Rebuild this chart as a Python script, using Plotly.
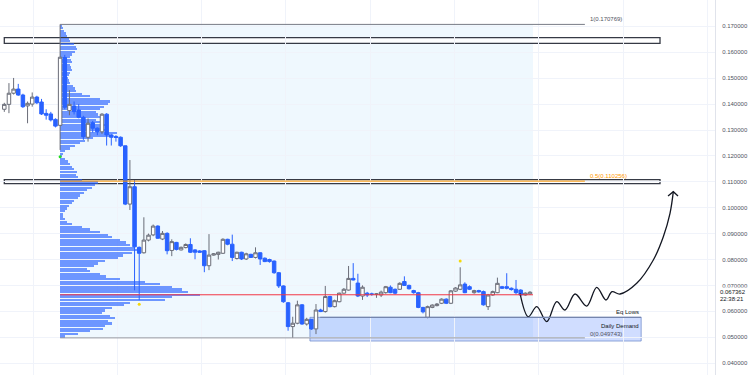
import plotly.graph_objects as go

# ---------------- data ----------------
bar_index = list(range(114))
open_ = [0.1380,0.1399,0.1442,0.1458,0.1435,0.1393,0.1400,0.1427,0.1408,0.1364,
         0.1362,0.1341,0.1318,0.1580,0.1375,0.1393,0.1377,0.1349,0.1272,0.1328,
         0.1307,0.1293,0.1361,0.1281,0.1275,0.1272,0.1239,0.1014,0.1081,0.0847,
         0.0826,0.0875,0.0895,0.0929,0.0879,0.0901,0.0835,0.0866,0.0837,0.0846,
         0.0858,0.0837,0.0833,0.0834,0.0776,0.0817,0.0820,0.0824,0.0878,0.0859,
         0.0804,0.0828,0.0802,0.0820,0.0808,0.0826,0.0805,0.0800,0.0794,0.0749,
         0.0698,0.0633,0.0541,0.0554,0.0625,0.0551,0.0569,0.0532,0.0605,0.0599,
         0.0657,0.0618,0.0637,0.0670,0.0682,0.0727,0.0709,0.0659,0.0670,0.0667,
         0.0666,0.0663,0.0672,0.0693,0.0685,0.0685,0.0715,0.0700,0.0680,0.0672,
         0.0615,0.0577,0.0615,0.0622,0.0631,0.0647,0.0631,0.0678,0.0685,0.0705,
         0.0695,0.0672,0.0680,0.0676,0.0618,0.0663,0.0672,0.0695,0.0695,0.0689,
         0.0685,0.0682,0.0663,0.0667]
high = [0.1405,0.1481,0.1501,0.1478,0.1440,0.1410,0.1445,0.1432,0.1420,0.1380,
        0.1370,0.1345,0.170769,0.1590,0.1454,0.1410,0.1400,0.1355,0.1345,0.1335,
        0.1310,0.1365,0.1365,0.1285,0.1280,0.1275,0.1240,0.1184,0.1107,0.0850,
        0.0963,0.0900,0.0935,0.0932,0.0910,0.0905,0.0878,0.0868,0.0850,0.0862,
        0.0882,0.0840,0.0836,0.0836,0.0898,0.0825,0.0830,0.0882,0.0880,0.0896,
        0.0830,0.0830,0.0826,0.0822,0.0847,0.0828,0.0808,0.0803,0.0796,0.0752,
        0.0700,0.0636,0.0579,0.0641,0.0628,0.0575,0.0570,0.0628,0.0610,0.0698,
        0.0660,0.0645,0.0672,0.0690,0.0775,0.0786,0.0745,0.0700,0.0675,0.0672,
        0.0670,0.0680,0.0698,0.0700,0.0688,0.0712,0.0735,0.0703,0.0683,0.0675,
        0.0617,0.0622,0.0627,0.0632,0.0650,0.0650,0.0682,0.0693,0.0770,0.0712,
        0.0700,0.0683,0.0683,0.0680,0.0667,0.0680,0.0730,0.0698,0.0747,0.0692,
        0.0721,0.0685,0.0673,0.0678]
low = [0.1370,0.1365,0.1437,0.1432,0.1385,0.1326,0.1390,0.1400,0.1358,0.1340,
       0.1333,0.1310,0.1223,0.1380,0.1357,0.1360,0.1345,0.1262,0.1255,0.1290,
       0.1280,0.1285,0.1240,0.1240,0.1255,0.1235,0.1010,0.0991,0.0681,0.0643,
       0.0823,0.0870,0.0890,0.0880,0.0875,0.0820,0.0813,0.0835,0.0835,0.0843,
       0.0825,0.0801,0.0826,0.0751,0.0759,0.0815,0.0800,0.0822,0.0855,0.0794,
       0.0800,0.0798,0.0798,0.0806,0.0804,0.0779,0.0790,0.0788,0.0745,0.0690,
       0.0633,0.0525,0.049743,0.0550,0.0548,0.0545,0.0528,0.0512,0.0597,0.0595,
       0.0615,0.0615,0.0635,0.0668,0.0680,0.0719,0.0655,0.0644,0.0655,0.0660,
       0.0652,0.0655,0.0668,0.0670,0.0665,0.0683,0.0698,0.0684,0.0668,0.0612,
       0.0592,0.0573,0.0612,0.0619,0.0628,0.0628,0.0628,0.0675,0.0682,0.0670,
       0.0682,0.0668,0.0672,0.0622,0.0605,0.0660,0.0670,0.0686,0.0685,0.0680,
       0.0665,0.0658,0.0660,0.0664]
close = [0.1399,0.1442,0.1458,0.1435,0.1390,0.1403,0.1427,0.1405,0.1362,0.1357,
         0.1339,0.1315,0.1581,0.1388,0.1399,0.1371,0.1349,0.1274,0.1326,0.1307,
         0.1293,0.1361,0.1281,0.1272,0.1271,0.1239,0.1014,0.1081,0.0849,0.0824,
         0.0875,0.0894,0.0929,0.0882,0.0901,0.0834,0.0869,0.0839,0.0847,0.0858,
         0.0828,0.0828,0.0828,0.0776,0.0817,0.0822,0.0828,0.0878,0.0859,0.0808,
         0.0828,0.0802,0.0822,0.0808,0.0826,0.0802,0.0792,0.0792,0.0749,0.0698,
         0.0637,0.0541,0.0554,0.0625,0.0551,0.0569,0.0532,0.0605,0.0599,0.0657,
         0.0618,0.0641,0.0670,0.0685,0.0727,0.0721,0.0659,0.0693,0.0663,0.0666,
         0.0667,0.0674,0.0695,0.0672,0.0670,0.0708,0.0700,0.0687,0.0672,0.0615,
         0.0598,0.0618,0.0624,0.0628,0.0647,0.0631,0.0679,0.0690,0.0702,0.0672,
         0.0685,0.0680,0.0675,0.0625,0.0663,0.0676,0.0708,0.0689,0.0689,0.0684,
         0.0672,0.0663,0.0670,0.067362]

# Volume profile (rows top -> bottom between fib 1 and fib 0)
fib_high = 0.170769
fib_low = 0.049743
profile_volume = [2,3,4,6,7,9,10,14,16,17,15,12,10,11,12,10,11,12,10,9,
                  8,9,10,13,15,16,22,30,40,50,48,44,40,36,38,42,36,40,45,42,
                  48,57,50,33,25,20,15,10,5,3,2,5,8,10,12,14,17,16,18,22,
                  38,35,32,27,24,20,18,14,12,9,7,5,3,3,5,7,12,22,30,40,
                  48,52,60,66,70,75,80,72,63,58,45,38,34,27,30,40,46,60,85,100,
                  112,122,128,140,112,105,70,64,52,45,42,50,55,48,52,45,43,30,18,5]

# Projection path (bar index, price)
proj_x = [110.86,112.64,114.45,116.6,118.75,120.53,122.68,125.19,127.34,129.34,
          130.63,132.35,135.94,139.51,141.66,143.1,143.81]
proj_y = [0.06695,0.05791,0.06178,0.05598,0.06371,0.06050,0.06668,0.06204,0.06927,0.06436,
          0.06757,0.06668,0.07081,0.07981,0.08880,0.09783,0.10618]
arrow_x = [142.67,143.81,144.82]
arrow_y = [0.10452,0.10618,0.10452]

# Zones
zone_a = (0.16347, 0.16563)
zone_b = (0.10927, 0.11081)
demand = (0.04853, 0.05768)
eq_lows = 0.05768
current_price = 0.067362
countdown = "22:38:21"

fib_start, fib_end, fib_line_end = 12, 113.65, 124.8
zone_x0, zone_x1 = 0, 140.95
demand_x0, demand_x1, eq_x0 = 65.7, 136.9, 67.9

green_dot = ([12], [0.1197])
yellow_dots = ([29, 98], [0.0627, 0.0794])

# ---------------- figure ----------------
fig = go.Figure()

n = len(profile_volume)
row_h = (fib_high - fib_low) / n
row_centers = [fib_high - (k + 0.5) * row_h for k in range(n)]
vmax = max(profile_volume)
prof_width_units = 140 / 4.652
fig.add_trace(go.Bar(
    y=row_centers, x=[v / vmax * prof_width_units for v in profile_volume],
    base=fib_start, orientation='h', width=row_h * 0.84,
    marker=dict(color='rgba(41,98,255,0.66)', line=dict(width=0)),
    hoverinfo='skip', showlegend=False))

poc_price = row_centers[profile_volume.index(vmax)]

fig.add_trace(go.Candlestick(
    x=bar_index, open=open_, high=high, low=low, close=close,
    increasing=dict(fillcolor='#ffffff', line=dict(color='#6a6d78', width=1)),
    decreasing=dict(fillcolor='#2962ff', line=dict(color='#2962ff', width=1)),
    whiskerwidth=0, showlegend=False))

fig.add_trace(go.Scatter(x=proj_x, y=proj_y, mode='lines',
                         line=dict(color='#131722', width=1.3, shape='spline', smoothing=1.0),
                         showlegend=False, hoverinfo='skip'))
fig.add_trace(go.Scatter(x=arrow_x, y=arrow_y, mode='lines',
                         line=dict(color='#131722', width=1.3),
                         showlegend=False, hoverinfo='skip'))
fig.add_trace(go.Scatter(x=green_dot[0], y=green_dot[1], mode='markers',
                         marker=dict(color='#22dd22', size=3), showlegend=False))
fig.add_trace(go.Scatter(x=yellow_dots[0], y=yellow_dots[1], mode='markers',
                         marker=dict(color='#f5d90a', size=3), showlegend=False))

shapes = []
# fib background
shapes.append(dict(type='rect', xref='x', yref='y', x0=fib_start, x1=fib_end,
                   y0=fib_low, y1=fib_high, fillcolor='rgba(33,150,243,0.07)',
                   line=dict(width=0), layer='below'))
# zones
for z in (zone_a, zone_b):
    shapes.append(dict(type='rect', xref='x', yref='y', x0=zone_x0, x1=zone_x1,
                       y0=z[0], y1=z[1], fillcolor='rgba(255,255,255,0.85)',
                       line=dict(color='#363a45', width=1.3), layer='below'))
# demand
shapes.append(dict(type='rect', xref='x', yref='y', x0=demand_x0, x1=demand_x1,
                   y0=demand[0], y1=demand[1], fillcolor='rgba(41,98,255,0.22)',
                   line=dict(color='rgba(100,130,200,0.7)', width=1), layer='below'))
# fib level lines
shapes.append(dict(type='line', xref='x', yref='y', x0=fib_start, x1=fib_line_end,
                   y0=fib_high, y1=fib_high, line=dict(color='#787b86', width=1)))
shapes.append(dict(type='line', xref='x', yref='y', x0=fib_start, x1=fib_line_end,
                   y0=fib_low, y1=fib_low, line=dict(color='#9598a1', width=1)))
mid = (fib_high + fib_low) / 2
shapes.append(dict(type='line', xref='x', yref='y', x0=fib_start, x1=fib_line_end,
                   y0=mid, y1=mid, line=dict(color='#ff9800', width=1)))
# POC
shapes.append(dict(type='line', xref='x', yref='y', x0=fib_start, x1=fib_end,
                   y0=poc_price, y1=poc_price, line=dict(color='#f23645', width=1)))
# Eq lows
shapes.append(dict(type='line', xref='x', yref='y', x0=eq_x0, x1=demand_x1,
                   y0=eq_lows, y1=eq_lows, line=dict(color='#7585ad', width=1.3)))
fig.update_layout(shapes=shapes)

fs = 6
ann = []
ann.append(dict(x=fib_line_end + 0.6, y=fib_high, xref='x', yref='y', text='1(0.170769)',
                showarrow=False, xanchor='left', yanchor='bottom',
                font=dict(size=fs, color='#50535e')))
ann.append(dict(x=fib_line_end + 0.6, y=mid, xref='x', yref='y', text='0.5(0.110256)',
                showarrow=False, xanchor='left', yanchor='bottom',
                font=dict(size=fs, color='#ff9800')))
ann.append(dict(x=fib_line_end + 0.6, y=fib_low, xref='x', yref='y', text='0(0.049743)',
                showarrow=False, xanchor='left', yanchor='bottom', yshift=-1,
                font=dict(size=fs, color='#50535e')))
ann.append(dict(x=demand_x1, y=eq_lows, xref='x', yref='y', text='Eq Lows',
                showarrow=False, xanchor='right', yanchor='bottom',
                font=dict(size=fs, color='#131722')))
ann.append(dict(x=demand_x1, y=0.0532, xref='x', yref='y', text='Daily Demand',
                showarrow=False, xanchor='right', yanchor='middle', yshift=3,
                font=dict(size=fs, color='#131722')))
ann.append(dict(x=1, y=current_price, xref='paper', yref='y', text=f'{current_price:.6f}',
                showarrow=False, xanchor='left', yanchor='middle', xshift=3, yshift=0,
                bgcolor='white', font=dict(size=fs, color='#131722')))
ann.append(dict(x=1, y=current_price, xref='paper', yref='y', text=countdown,
                showarrow=False, xanchor='left', yanchor='middle', xshift=3, yshift=-7,
                bgcolor='white', font=dict(size=fs, color='#131722')))
fig.update_layout(annotations=ann)

fig.update_layout(
    width=750, height=375,
    margin=dict(l=0, r=35, t=0, b=0),
    paper_bgcolor='white', plot_bgcolor='white',
    font=dict(family='Liberation Sans, Arial, sans-serif', size=fs, color='#50535e'),
    showlegend=False, bargap=0, boxgap=0.25, boxgroupgap=0,
    xaxis=dict(range=[-0.924, 152.77], rangeslider=dict(visible=False),
               showticklabels=False, showgrid=True, gridcolor='#f0f3fa', gridwidth=1,
               tickmode='linear', tick0=6.17, dtick=18.12, zeroline=False,
               showline=False, fixedrange=True),
    yaxis=dict(range=[0.03541, 0.18019], side='right', tickformat='.6f',
               tickmode='linear', tick0=0.04, dtick=0.01,
               showgrid=True, gridcolor='#f0f3fa', gridwidth=1, zeroline=False,
               showline=True, linecolor='#e0e3eb', linewidth=1,
               ticks='', ticklabelstandoff=5,
               tickfont=dict(size=fs, color='#50535e')),
)

fig.write_html("out.html", config={'displayModeBar': False},
               post_script="document.body.style.margin='0';")
